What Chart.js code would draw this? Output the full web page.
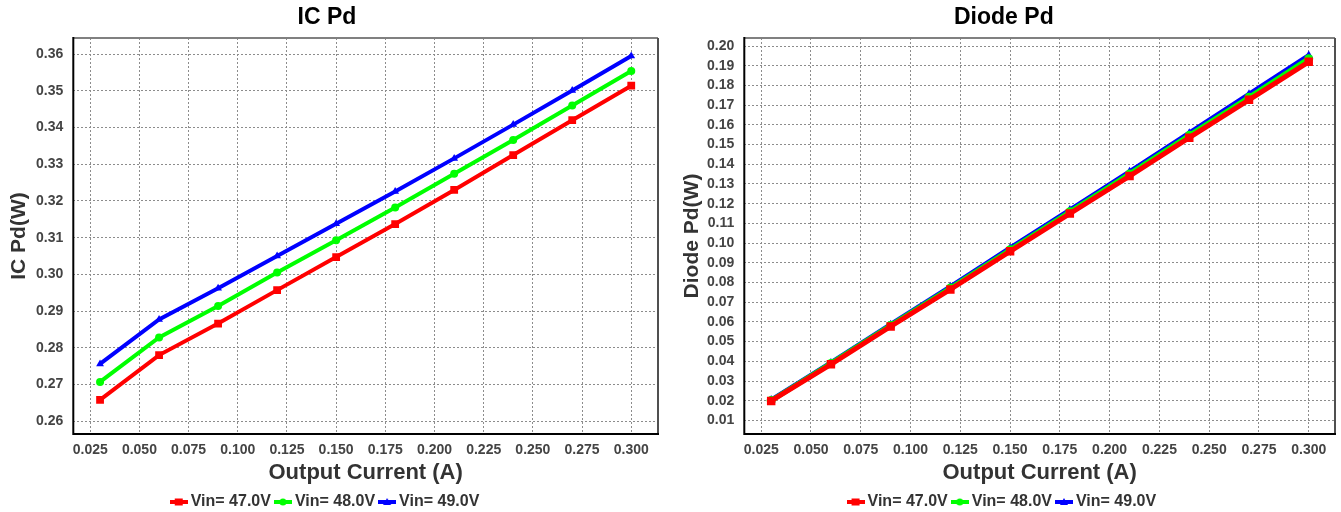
<!DOCTYPE html>
<html>
<head>
<meta charset="utf-8">
<script src="https://cdn.jsdelivr.net/npm/chart.js@4.4.1/dist/chart.umd.min.js"></script>
<style>
  html, body { margin: 0; padding: 0; background: #fff; }
  body { width: 1341px; height: 512px; overflow: hidden; position: relative; }
  .box { position: absolute; top: 0; height: 520px; }
  #boxIc { left: -4.3px; width: 670px; }
  #boxDiode { left: 670px; width: 671px; }
</style>
</head>
<body>
<div class="box" id="boxIc"><canvas id="icChart"></canvas></div>
<div class="box" id="boxDiode"><canvas id="diodeChart"></canvas></div>
<script>
// Courant de sortie (A)
const outputCurrent = [0.03, 0.06, 0.09, 0.12, 0.15, 0.18, 0.21, 0.24, 0.27, 0.30];
const seriesLabels = ["Vin= 47.0V", "Vin= 48.0V", "Vin= 49.0V"];

// IC Pd (W)
const icPd47 = [0.2658, 0.2780, 0.2866, 0.2957, 0.3047, 0.3137, 0.3230, 0.3325, 0.3420, 0.3514];
const icPd48 = [0.2707, 0.2828, 0.2914, 0.3005, 0.3093, 0.3182, 0.3274, 0.3366, 0.3460, 0.3554];
const icPd49 = [0.2756, 0.2877, 0.2962, 0.3050, 0.3138, 0.3226, 0.3316, 0.3408, 0.3501, 0.3595];

// Diode Pd (W)
const diodePd47 = [0.0199, 0.0385, 0.0577, 0.0765, 0.0958, 0.1150, 0.1340, 0.1535, 0.1727, 0.1920];
const diodePd48 = [0.0201, 0.0389, 0.0582, 0.0772, 0.0966, 0.1159, 0.1351, 0.1547, 0.1740, 0.1936];
const diodePd49 = [0.0203, 0.0392, 0.0586, 0.0778, 0.0974, 0.1168, 0.1362, 0.1558, 0.1755, 0.1952];

// Graduations
const xTicks = [0.025, 0.050, 0.075, 0.100, 0.125, 0.150, 0.175, 0.200, 0.225, 0.250, 0.275, 0.300];
const icTicks = [0.26, 0.27, 0.28, 0.29, 0.30, 0.31, 0.32, 0.33, 0.34, 0.35, 0.36];
const diodeTicks = [0.01, 0.02, 0.03, 0.04, 0.05, 0.06, 0.07, 0.08, 0.09, 0.10,
  0.11, 0.12, 0.13, 0.14, 0.15, 0.16, 0.17, 0.18, 0.19, 0.20];

const colors = ["#ff0000", "#00ff00", "#0000ff"];
const markers = ["rect", "circle", "triangle"];
const FONT = "Liberation Sans, Arial, sans-serif";

// Petites icônes de légende : trait + marqueur
const legendIcons = colors.map((c, i) => {
  const cv = document.createElement("canvas");
  cv.width = 18;
  cv.height = 10;
  const g = cv.getContext("2d");
  g.fillStyle = c;
  g.fillRect(0, 3, 18, 4);
  if (i === 0) g.fillRect(5, 1.5, 8, 7);
  if (i === 1) { g.beginPath(); g.arc(9, 5, 3.5, 0, Math.PI * 2); g.fill(); }
  if (i === 2) { g.beginPath(); g.moveTo(9, 1); g.lineTo(13, 8); g.lineTo(5, 8); g.fill(); }
  return cv;
});

// Cadre autour de la zone de tracé
const framePlugin = {
  id: "frame",
  afterDraw(chart) {
    const { ctx, chartArea: a } = chart;
    ctx.save();
    ctx.lineWidth = 2;
    ctx.strokeStyle = "#808080";
    ctx.beginPath(); ctx.moveTo(a.left, a.top); ctx.lineTo(a.right, a.top); ctx.stroke();
    ctx.strokeStyle = "#505050";
    ctx.beginPath(); ctx.moveTo(a.right, a.top); ctx.lineTo(a.right, a.bottom); ctx.stroke();
    ctx.strokeStyle = "#000";
    ctx.beginPath(); ctx.moveTo(a.left, a.top - 1); ctx.lineTo(a.left, a.bottom); ctx.lineTo(a.right + 1, a.bottom); ctx.stroke();
    ctx.restore();
  },
};

function makeDatasets(series, width, radii) {
  return series.map((vals, i) => ({
    label: seriesLabels[i],
    data: outputCurrent.map((x, k) => ({ x: x, y: vals[k] })),
    borderColor: colors[i],
    backgroundColor: colors[i],
    borderWidth: width,
    pointStyle: markers[i],
    pointRadius: radii[i],
    pointBorderWidth: 0,
    tension: 0,
  }));
}

function makeConfig(opts) {
  return {
    type: "line",
    data: { datasets: makeDatasets(opts.series, opts.lineWidth, opts.radii) },
    plugins: [framePlugin],
    options: {
      responsive: true,
      maintainAspectRatio: false,
      animation: false,
      layout: { padding: { left: 0, right: opts.padRight, top: 0, bottom: 0 } },
      plugins: {
        title: {
          display: true,
          text: opts.title,
          color: "#000",
          font: { family: FONT, size: 23, weight: "bold" },
          padding: { top: 4, bottom: 6.4 },
        },
        legend: {
          position: "bottom",
          labels: {
            usePointStyle: true,
            pointStyleWidth: 8,
            boxHeight: 10,
            padding: 8,
            color: "#333",
            font: { family: FONT, size: 16, weight: "bold" },
            generateLabels: (chart) =>
              Chart.defaults.plugins.legend.labels.generateLabels(chart)
                .map((l, i) => ({ ...l, pointStyle: legendIcons[i] })),
          },
        },
        tooltip: { enabled: false },
      },
      scales: {
        x: {
          type: "linear",
          min: opts.xMin,
          max: opts.xMax,
          afterBuildTicks: (axis) => { axis.ticks = xTicks.map((v) => ({ value: v })); },
          afterFit: (axis) => { axis.height = 52; },
          border: { display: false, dash: [2, 2] },
          grid: { color: "#8c8c8c", drawTicks: false },
          ticks: {
            padding: 8,
            color: "#444",
            font: { family: FONT, size: 14, weight: "bold" },
            callback: (v) => v.toFixed(3),
          },
          title: {
            display: true,
            text: "Output Current (A)",
            color: "#333",
            font: { family: FONT, size: 22, weight: "bold" },
            padding: { top: 0, bottom: 0 },
          },
        },
        y: {
          type: "linear",
          min: opts.yMin,
          max: opts.yMax,
          afterBuildTicks: (axis) => { axis.ticks = opts.yTicks.map((v) => ({ value: v })); },
          afterFit: (axis) => { axis.width = opts.yWidth; },
          border: { display: false, dash: [2, 2] },
          grid: { color: "#8c8c8c", drawTicks: false },
          ticks: {
            padding: 10,
            color: "#444",
            font: { family: FONT, size: 14, weight: "bold" },
            callback: (v) => v.toFixed(2),
          },
          title: {
            display: true,
            text: opts.yTitle,
            color: "#333",
            font: { family: FONT, size: 21, weight: "bold" },
            padding: { top: opts.yTitlePad, bottom: 0 },
          },
        },
      },
    },
  };
}

window.addEventListener("DOMContentLoaded", () => {
  const icCfg = makeConfig({
    title: "IC Pd",
    yTitle: "IC Pd(W)",
    series: [icPd47, icPd48, icPd49],
    lineWidth: 4,
    radii: [5.5, 4, 4.5],
    xMin: 0.0164, xMax: 0.3136,
    yMin: 0.2565, yMax: 0.3644,
    yTicks: icTicks,
    yWidth: 77.3,
    yTitlePad: 10.7,
    padRight: 8,
  });
  const diodeCfg = makeConfig({
    title: "Diode Pd",
    yTitle: "Diode Pd(W)",
    series: [diodePd47, diodePd48, diodePd49],
    lineWidth: 5,
    radii: [6, 4.5, 5],
    xMin: 0.0165, xMax: 0.3132,
    yMin: 0.0031, yMax: 0.2041,
    yTicks: diodeTicks,
    yWidth: 74.3,
    yTitlePad: 9.9,
    padRight: 3.3,
  });
  new Chart(document.getElementById("icChart"), icCfg);
  new Chart(document.getElementById("diodeChart"), diodeCfg);
});
</script>
</body>
</html>
